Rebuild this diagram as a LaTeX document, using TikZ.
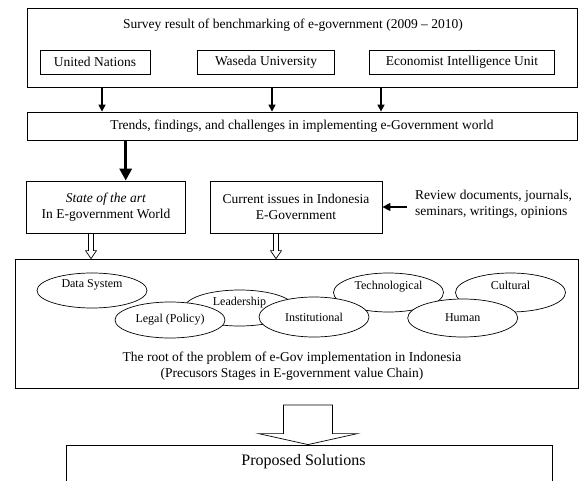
\documentclass[tikz,border=0pt]{standalone}
\usepackage{fontspec}
\setmainfont{Liberation Serif}
\usetikzlibrary{arrows.meta,calc,positioning,shapes.geometric}

\newcommand{\bodysz}{\fontsize{13.5pt}{16pt}\selectfont}
\newcommand{\ovalsz}{\fontsize{12pt}{14pt}\selectfont}
\newcommand{\bigsz}{\fontsize{16pt}{19pt}\selectfont}
% open block arrow: start, end, half shaft, half head, head length
\newcommand{\hollowarrow}[5]{%
  \draw[fill=white,line width=0.7pt] let \p1=(#1), \p2=(#2) in
    (\x1-#3,\y1) -- (\x1-#3,\y2+#5) -- (\x1-#4,\y2+#5) -- (\x1,\y2)
    -- (\x1+#4,\y2+#5) -- (\x1+#3,\y2+#5) -- (\x1+#3,\y1) -- cycle;}

\tikzset{
  frame/.style={draw,line width=0.8pt,rectangle,inner sep=0pt},
  box/.style={draw,line width=0.8pt,rectangle,inner sep=2pt,font=\bodysz},
  oval/.style={draw,line width=0.7pt,ellipse,fill=white,inner sep=0pt,
    minimum width=110pt,font=\ovalsz},
  hi/.style={text depth=14pt},
  down/.style={line width=1.5pt,-{Triangle[length=7pt,width=7pt]}},
  bigdown/.style={line width=3.5pt,-{Triangle[length=12pt,width=12pt]}},
}

\begin{document}
\begin{tikzpicture}[x=1pt,y=-1pt]
  \useasboundingbox (0,0) rectangle (580,481);
  \clip (0,0) rectangle (580,481);
  % benchmarking sources
  \node[frame,minimum width=550pt,minimum height=79pt] (survey) at (302,47.5) {};
  \node[font=\bodysz] (surveyt) at (293,25) {Survey result of benchmarking of e-government (2009 – 2010)};
  \node[box,minimum width=110pt,minimum height=24pt] (un) at (95,62) {United Nations};
  \node[box,minimum width=137pt,minimum height=24pt] (waseda) at (266,62) {Waseda University};
  \node[box,minimum width=185pt,minimum height=24pt] (eiu) at (462,62) {Economist Intelligence Unit};
  \node[box,minimum width=550pt,minimum height=28pt] (trends) at (302,126) {Trends, findings, and challenges in implementing e-Government world};
  \foreach \x in {102,272,381}
    \draw[down] (\x,0 |- survey.south) -- (\x,0 |- trends.north);
  % state of the art and current issues
  \node[box,minimum width=159pt,minimum height=52pt,align=center] (art) at (106,207) {\textit{State of the art}\\In  E-government World};
  \node[box,minimum width=172pt,minimum height=52pt,align=center] (current) at (296,207) {Current issues in Indonesia\\E-Government};
  \node[font=\bodysz,align=left,anchor=west,inner xsep=8pt] (review) at (407,204) {Review documents, journals,\\seminars, writings, opinions};
  \draw[bigdown] (125.7,0 |- trends.south) -- (125.7,0 |- art.north);
  \draw[line width=1.5pt,-{Triangle[length=8pt,width=8pt]}] (review.west |- current.east) -- (current.east);
  % root of the problem
  \node[frame,minimum width=563pt,minimum height=129pt] (root) at (296.4,323.5) {};
  \coordinate (a1) at (91,0);
  \coordinate (a2) at (276,0);
  \hollowarrow{a1 |- art.south}{a1 |- root.north}{2.5pt}{5.5pt}{8pt}
  \hollowarrow{a2 |- current.south}{a2 |- root.north}{2.5pt}{5.5pt}{8pt}
  \node[oval,hi,minimum height=35pt] (data) at (92,290.5) {Data System};
  \node[oval,hi,minimum height=36pt] (lead) at (239.5,308) {Leadership};
  \node[oval,minimum height=36pt] (legal) at (170,320) {Legal (Policy)};
  \node[oval,hi,minimum height=39pt] (tech) at (388.5,292.5) {Technological};
  \node[oval,minimum height=40pt] (inst) at (314,317) {Institutional};
  \node[oval,hi,minimum height=39pt] (cult) at (510.5,292.5) {Cultural};
  \node[oval,minimum height=38pt] (human) at (462.7,318) {Human};
  \node[font=\bodysz,align=center] (roott) at (292,366) {The root of the problem of e-Gov implementation in Indonesia\\(Precusors Stages in E-government value Chain)};
  % solutions
  \node[frame,minimum width=486pt,minimum height=50pt] (prop) at (309.6,470) {};
  \node[font=\bigsz] (propt) at (303.5,462) {Proposed Solutions};
  \coordinate (a3) at (308,405);
  \hollowarrow{a3}{a3 |- prop.north}{24.5pt}{49.5pt}{11pt}
\end{tikzpicture}
\end{document}
